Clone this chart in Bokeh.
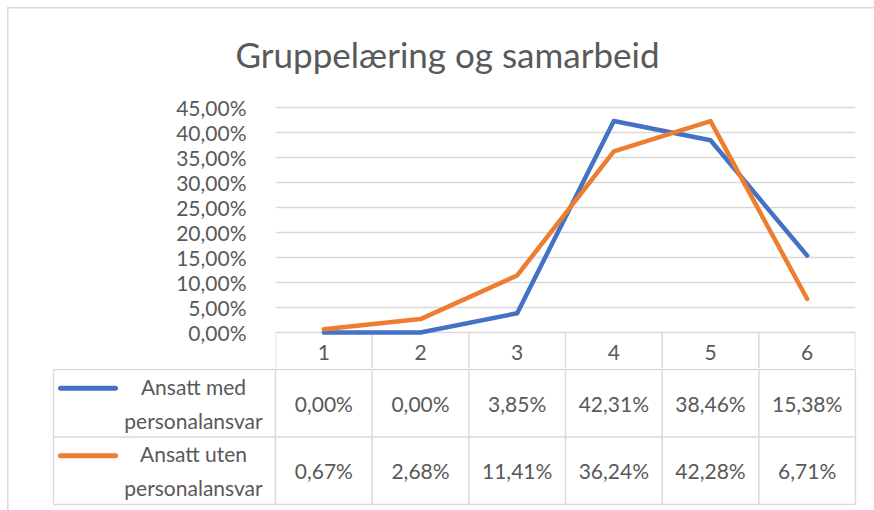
from bokeh.plotting import figure
from bokeh.layouts import column
from bokeh.models import Range1d, FixedTicker, CustomJSTickFormatter, ColumnDataSource
from bokeh.core.properties import value
from bokeh.embed import file_html
from bokeh.resources import INLINE

# ---- data ----
title_text = "Gruppelæring og samarbeid"
categories = [1, 2, 3, 4, 5, 6]
series_names = ["Ansatt med\npersonalansvar", "Ansatt uten\npersonalansvar"]
med_vals = [0.0000, 0.0000, 0.0385, 0.4231, 0.3846, 0.1538]
uten_vals = [0.0067, 0.0268, 0.1141, 0.3624, 0.4228, 0.0671]
y_ticks = [0.00, 0.05, 0.10, 0.15, 0.20, 0.25, 0.30, 0.35, 0.40, 0.45]

colors = ["#4472C4", "#ED7D31"]
TXT = "#595959"
GRID = "#d9d9d9"
FONT = "Lato"

def pct(v):
    return ("%.2f" % (v * 100)).replace(".", ",") + "%"

# ---- geometry (page pixels) ----
W = 874
px = 580 / 6.0           # pixels per category
yscale = 500.0           # pixels per 1.0 (100%)
zero_y = 332             # page y of 0 %
frame_top = 103
fig1_h = 368

# ---- chart figure (plot area + header row of the data table) ----
p = figure(width=W, height=fig1_h, output_backend="svg", toolbar_location=None,
           x_range=Range1d(0.5, 6.5),
           y_range=Range1d(-(fig1_h - zero_y) / yscale, (zero_y - frame_top) / yscale),
           min_border_left=275, min_border_right=19, min_border_top=frame_top, min_border_bottom=0)
p.frame_align = False
p.title.text = title_text
p.title.align = "left"
p.title.offset = -40
if "standoff" in p.title.properties():
    p.title.standoff = 58
p.title.text_font = FONT
p.title.text_font_size = "35px"
p.title.text_font_style = "normal"
p.title.text_color = TXT
p.outline_line_color = None
p.border_fill_color = None
p.xgrid.grid_line_color = None
p.ygrid.grid_line_color = GRID
p.ygrid.grid_line_width = 1.5
p.ygrid.ticker = FixedTicker(ticks=y_ticks)
p.xaxis.visible = False

p.yaxis.ticker = FixedTicker(ticks=y_ticks)
p.yaxis.formatter = CustomJSTickFormatter(code="return (tick*100).toFixed(2).replace('.', ',') + '%';")
p.yaxis.axis_line_color = None
p.yaxis.major_tick_line_color = None
p.yaxis.minor_tick_line_color = None
p.yaxis.major_label_standoff = 23
p.yaxis.major_label_text_font = FONT
p.yaxis.major_label_text_font_size = "21px"
p.yaxis.major_label_text_color = TXT

bounds = [c - 0.5 for c in categories] + [categories[-1] + 0.5]
y_bottom = p.y_range.start
# header row: column boundaries and category labels
p.segment(x0=bounds, y0=[0] * len(bounds), x1=bounds, y1=[y_bottom] * len(bounds),
          line_color=GRID, line_width=1.5)
p.text(x=categories, y=[-(352 - zero_y) / yscale] * len(categories),
       text=[str(c) for c in categories], text_font=value(FONT), text_font_size="21px",
       text_color=TXT, text_align="center", text_baseline="middle")

for vals, col in zip([med_vals, uten_vals], colors):
    p.line(categories, vals, line_color=col, line_width=4.5, line_join="round", line_cap="round")

# ---- data table rows figure ----
left_frame = 52
x0 = 0.5 - (275 - left_frame) / px
x1 = x0 + (856 - left_frame) / px
row_h = 67.5                      # pixels per table row
table_bottom = 504                # page y of table bottom line
fig2_h = 510 - fig1_h
t = figure(width=W, height=fig2_h, output_backend="svg", toolbar_location=None,
           x_range=Range1d(x0, x1),
           y_range=Range1d(-(510 - table_bottom) / row_h, (table_bottom - fig1_h) / row_h),
           min_border_left=left_frame, min_border_right=W - 856, min_border_top=0, min_border_bottom=0)
t.frame_align = False
t.axis.visible = False
t.grid.visible = False
t.outline_line_color = None
t.border_fill_color = None

tbl_left = x0 + 1 / px
nrows = len(series_names)

hy = list(range(nrows + 1))
t.segment(x0=[tbl_left] * len(hy), y0=hy, x1=[bounds[-1]] * len(hy), y1=hy,
          line_color=GRID, line_width=1.5)
vx = [tbl_left] + bounds
t.segment(x0=vx, y0=[0] * len(vx), x1=vx, y1=[nrows] * len(vx), line_color=GRID, line_width=1.5)

for i, (name, vals, col) in enumerate(zip(series_names, [med_vals, uten_vals], colors)):
    yc = nrows - i - 0.5
    src = ColumnDataSource(dict(x=categories, y=[yc] * len(categories), txt=[pct(v) for v in vals]))
    t.text(x="x", y="y", text="txt", source=src, text_font=value(FONT), text_font_size="21px",
           text_color=TXT, text_align="center", text_baseline="middle")
    ys = yc + 15 / row_h
    t.segment(x0=[tbl_left + 7 / px], y0=[ys], x1=[tbl_left + 62 / px], y1=[ys],
              line_color=col, line_width=5, line_cap="round")
    t.text(x=[x0 + (193 - left_frame) / px], y=[yc], text=[name], text_font=value(FONT),
           text_font_size="21px", text_color=TXT, text_align="center", text_baseline="middle",
           text_line_height=1.35)

border_css = ("linear-gradient(#d9d9d9,#d9d9d9) 7px 7px / 1.5px 100% no-repeat, "
              "linear-gradient(#d9d9d9,#d9d9d9) 7px 7px / 100% 1.5px no-repeat")
lay = column(p, t, spacing=0, styles={"background": border_css})
open("out.html", "w").write(file_html(lay, INLINE))
